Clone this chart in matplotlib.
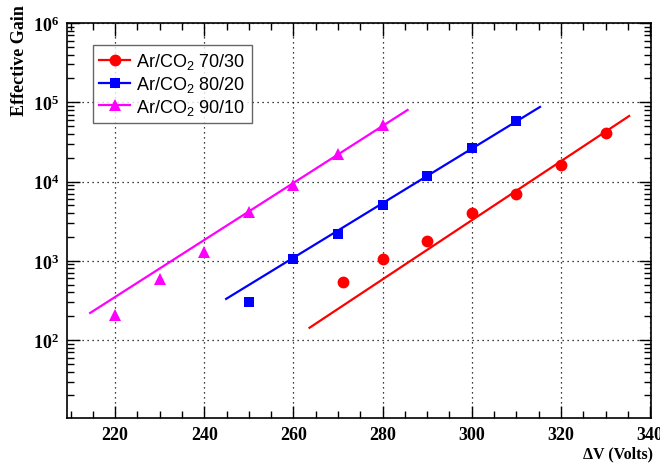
import numpy as np
import matplotlib
matplotlib.use('Agg')
import matplotlib.pyplot as plt
from matplotlib.ticker import FixedLocator, MultipleLocator, LogLocator, FuncFormatter, NullFormatter

plt.rcParams['mathtext.fontset'] = 'custom'
plt.rcParams['mathtext.rm'] = 'Liberation Sans'
plt.rcParams['mathtext.it'] = 'Liberation Sans:italic'
plt.rcParams['mathtext.bf'] = 'Liberation Serif:bold'

# measured points
volts_7030 = [271, 280, 290, 300, 310, 320, 330]
gain_7030 = [542, 1057, 1780, 4020, 6980, 16200, 41000]
volts_8020 = [250, 260, 270, 280, 290, 300, 310]
gain_8020 = [303, 1057, 2180, 5070, 11780, 26500, 58000]
volts_9010 = [220, 230, 240, 250, 260, 270, 280]
gain_9010 = [208, 590, 1290, 4140, 9060, 22300, 51800]

# exponential fits, drawn between their end points
fit_x_7030 = [263.6, 335.3]
fit_y_7030 = [143, 67100]
fit_x_8020 = [244.9, 315.3]
fit_y_8020 = [331, 87300]
fit_x_9010 = [214.4, 285.6]
fit_y_9010 = [220, 80000]

labels = ['Ar/CO$_2$ 70/30', 'Ar/CO$_2$ 80/20', 'Ar/CO$_2$ 90/10']
colors = ['#ff0000', '#0000ff', '#ff00ff']
markers = ['o', 's', '^']
msizes = [8.5, 7.5, 9]

fig = plt.figure(figsize=(6.6, 4.64), dpi=100)
ax = fig.add_axes([67/660, 1-419/464, (651-67)/660, (419-24)/464])

series = [(volts_7030, gain_7030, fit_x_7030, fit_y_7030),
          (volts_8020, gain_8020, fit_x_8020, fit_y_8020),
          (volts_9010, gain_9010, fit_x_9010, fit_y_9010)]
handles = []
for (vx, gy, fx, fy), lab, c, m, ms in zip(series, labels, colors, markers, msizes):
    ax.plot(fx, fy, color=c, lw=1.6, zorder=3)
    ax.plot(vx, gy, ls='none', marker=m, color=c, ms=ms, mew=0, zorder=4)
    h, = ax.plot([], [], color=c, lw=1.6, marker=m, ms=ms, mew=0)
    handles.append(h)

ax.set_yscale('log')
ax.set_xlim(209.2, 340.2)
ax.set_ylim(10.4, 1e6)

ax.xaxis.set_major_locator(MultipleLocator(20))
ax.xaxis.set_minor_locator(MultipleLocator(5))
ax.yaxis.set_major_locator(FixedLocator([1e2, 1e3, 1e4, 1e5, 1e6]))
ax.yaxis.set_minor_locator(LogLocator(base=10, subs=np.arange(2, 10), numticks=20))
ax.yaxis.set_minor_formatter(NullFormatter())
ax.yaxis.set_major_formatter(FuncFormatter(lambda v, p: r'$\mathbf{10^{%d}}$' % round(np.log10(v))))

ax.tick_params(which='both', direction='in', top=True, right=True, width=1.0)
ax.tick_params(which='major', length=9)
ax.tick_params(which='minor', length=5)
ax.tick_params(axis='x', which='major', pad=6)
ax.tick_params(axis='y', which='major', pad=6)
for t in ax.get_xticklabels() + ax.get_yticklabels():
    t.set_fontfamily('Liberation Serif')
    t.set_fontweight('bold')
    t.set_fontsize(13)

ax.grid(True, which='major', color='black', ls=(0, (1, 3)), lw=0.9)
for s in ax.spines.values():
    s.set_linewidth(1.2)

leg = ax.legend(handles, labels, loc='upper left', bbox_to_anchor=((93-67)/584, 1-(46-24)/395),
                prop={'family': 'Liberation Sans', 'size': 13}, frameon=True, fancybox=False,
                handlelength=1.7, borderpad=0.35, labelspacing=0.15, handletextpad=0.35,
                borderaxespad=0)
leg.get_frame().set_edgecolor('#404040')
leg.get_frame().set_linewidth(1.0)

fig.text(653/660, 1-454/464, '\u0394V (Volts)', ha='right', va='center',
         family='Liberation Serif', weight='bold', fontsize=11.5)
fig.text(20/660, 1-5/464, 'Effective Gain', ha='center', va='top', rotation=90,
         family='Liberation Serif', weight='bold', fontsize=13)

fig.savefig('out.png', dpi=100)
